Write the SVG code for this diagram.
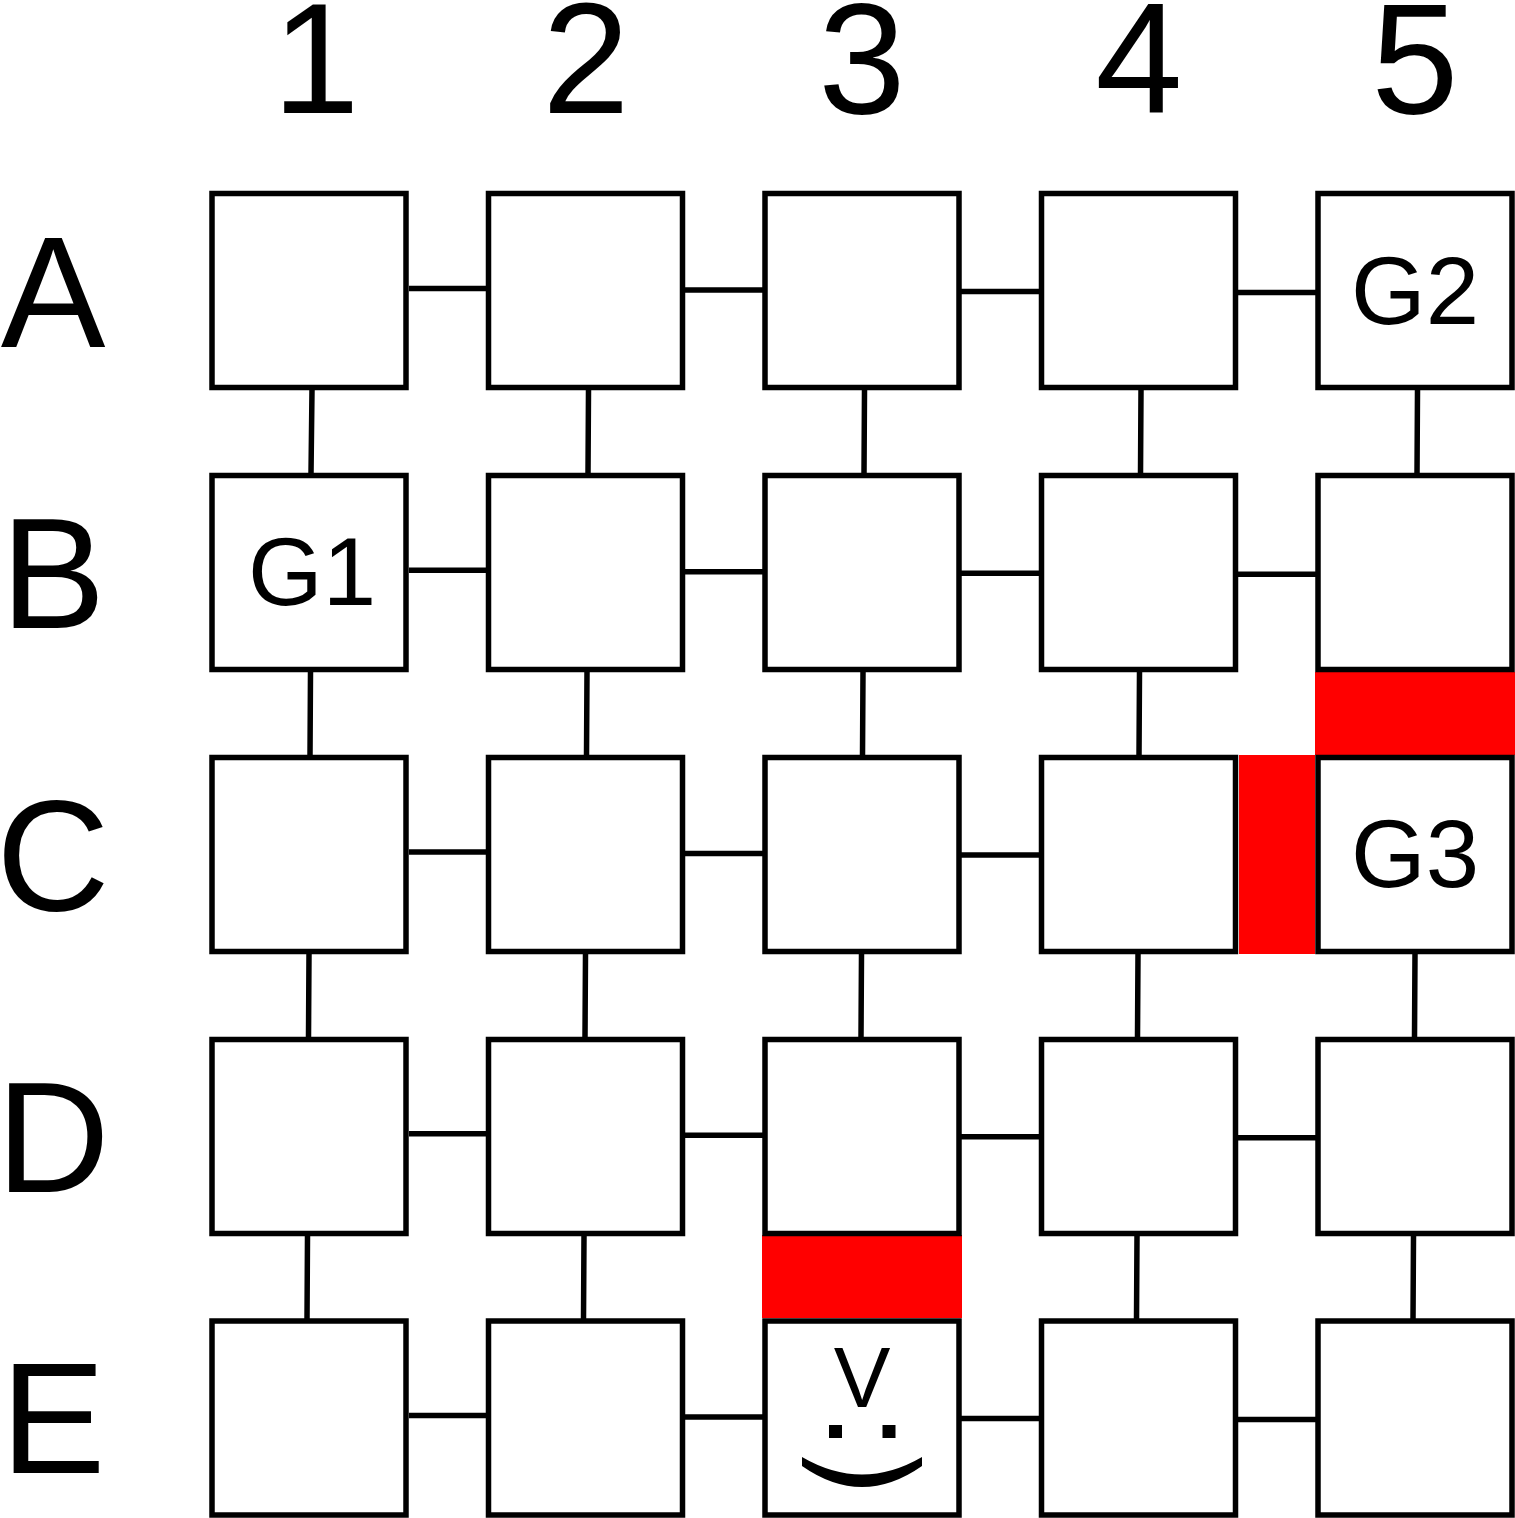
<svg xmlns="http://www.w3.org/2000/svg" width="1515" height="1518" viewBox="0 0 1515 1518">
<style>
text{font-family:"Liberation Sans",Arial,sans-serif;fill:#000;text-anchor:middle}
.h{font-size:157px}
.g{font-size:96px}
.n{fill:#fff;stroke:#000;stroke-width:5.5}
.c{stroke:#000;stroke-width:5.5;fill:none}
.r{fill:#f00}
</style>
<rect width="1515" height="1518" fill="#fff"/>
<g id="col-labels" class="h">
<text x="316" y="113">1</text><text x="586" y="113">2</text><text x="862" y="113">3</text><text x="1139" y="113">4</text><text x="1415" y="113">5</text>
</g>
<g id="row-labels" class="h">
<text x="53" y="347">A</text><text x="53" y="628">B</text><text x="53" y="910">C</text><text x="53" y="1192">D</text><text x="53" y="1473">E</text>
</g>
<g id="connectors">
<path class="c" d="M409 288.500H487M685 290H763M961 291.500H1040M1237 292.500H1316"/>
<path class="c" d="M409 570.300H487M685 571.800H763M961 573.300H1040M1237 574.300H1316"/>
<path class="c" d="M409 852H487M685 853.500H763M961 855H1040"/>
<path class="c" d="M409 1133.800H487M685 1135.300H763M961 1136.800H1040M1237 1137.800H1316"/>
<path class="c" d="M409 1415.500H487M685 1417H763M961 1418.500H1040M1237 1419.500H1316"/>
<path class="c" d="M312 390L311 474M588.500 390L588 474M864.500 390L864 474M1141 390L1140.500 474M1417.500 390L1417 474"/>
<path class="c" d="M310.500 672L310 756M587 672L586.500 756M863 672L862.500 756M1139.500 672L1139 756"/>
<path class="c" d="M309 954L308.500 1038M585.500 954L585 1038M861.500 954L861 1038M1138 954L1137.500 1038M1415 954L1414.500 1038"/>
<path class="c" d="M307.500 1236L307 1320M584 1236L583.500 1320M1137 1236L1136.500 1320M1413.500 1236L1413 1320"/>
</g>
<g id="blocked">
<rect class="r" x="1315" y="672" width="200" height="83"/>
<rect class="r" x="1239" y="755" width="76" height="199"/>
<rect class="r" x="762" y="1235" width="200" height="83"/>
</g>
<g id="A1"><rect class="n" x="212" y="193.500" width="194" height="194"/></g>
<g id="A2"><rect class="n" x="488.500" y="193.500" width="194" height="194"/></g>
<g id="A3"><rect class="n" x="765" y="193.500" width="194" height="194"/></g>
<g id="A4"><rect class="n" x="1041.500" y="193.500" width="194" height="194"/></g>
<g id="A5"><rect class="n" x="1318" y="193.500" width="194" height="194"/><text class="g" x="1415" y="324">G2</text></g>
<g id="B1"><rect class="n" x="212" y="475.500" width="194" height="194"/><text class="g" x="312" y="605">G1</text></g>
<g id="B2"><rect class="n" x="488.500" y="475.500" width="194" height="194"/></g>
<g id="B3"><rect class="n" x="765" y="475.500" width="194" height="194"/></g>
<g id="B4"><rect class="n" x="1041.500" y="475.500" width="194" height="194"/></g>
<g id="B5"><rect class="n" x="1318" y="475.500" width="194" height="194"/></g>
<g id="C1"><rect class="n" x="212" y="757.500" width="194" height="194"/></g>
<g id="C2"><rect class="n" x="488.500" y="757.500" width="194" height="194"/></g>
<g id="C3"><rect class="n" x="765" y="757.500" width="194" height="194"/></g>
<g id="C4"><rect class="n" x="1041.500" y="757.500" width="194" height="194"/></g>
<g id="C5"><rect class="n" x="1318" y="757.500" width="194" height="194"/><text class="g" x="1415" y="887">G3</text></g>
<g id="D1"><rect class="n" x="212" y="1039.500" width="194" height="194"/></g>
<g id="D2"><rect class="n" x="488.500" y="1039.500" width="194" height="194"/></g>
<g id="D3"><rect class="n" x="765" y="1039.500" width="194" height="194"/></g>
<g id="D4"><rect class="n" x="1041.500" y="1039.500" width="194" height="194"/></g>
<g id="D5"><rect class="n" x="1318" y="1039.500" width="194" height="194"/></g>
<g id="E1"><rect class="n" x="212" y="1321" width="194" height="194"/></g>
<g id="E2"><rect class="n" x="488.500" y="1321" width="194" height="194"/></g>
<g id="E3"><rect class="n" x="765" y="1321" width="194" height="194"/>
<text x="862" y="1407" font-size="85">V</text>
<rect x="829" y="1425" width="13" height="13"/><rect x="882.500" y="1425" width="13" height="13"/>
<path d="M802 1457Q862 1492 922 1457V1466Q862 1508 802 1466Z"/></g>
<g id="E4"><rect class="n" x="1041.500" y="1321" width="194" height="194"/></g>
<g id="E5"><rect class="n" x="1318" y="1321" width="194" height="194"/></g>
</svg>
